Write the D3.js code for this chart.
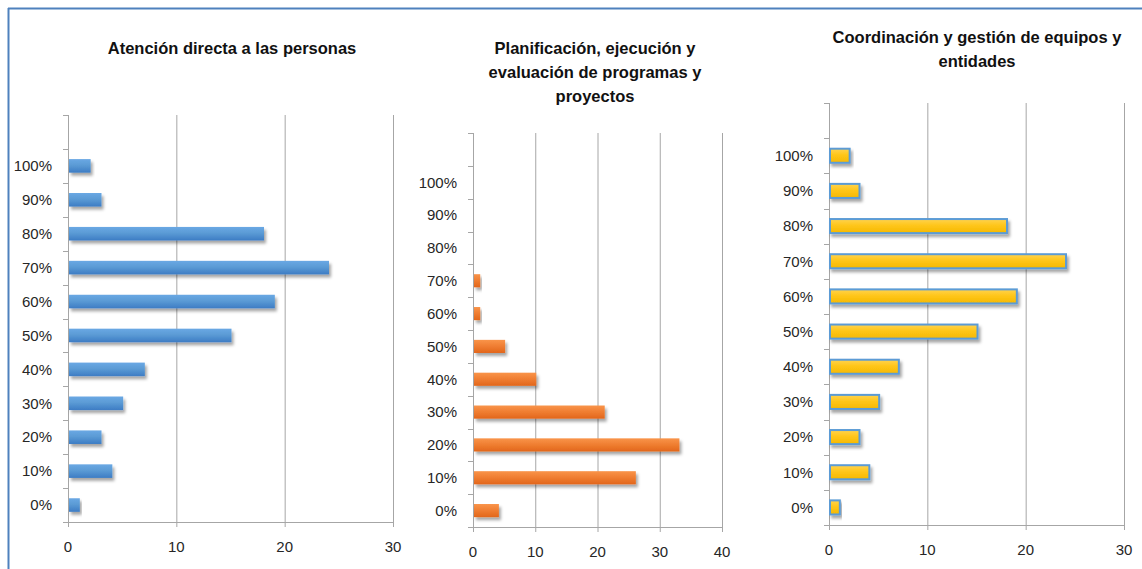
<!DOCTYPE html>
<html>
<head>
<meta charset="utf-8">
<script src="https://cdn.jsdelivr.net/npm/d3@7"></script>
<style>
  html, body { margin: 0; padding: 0; background: #fff; }
  svg { display: block; font-family: "Liberation Sans", Arial, sans-serif; }
</style>
</head>
<body>
<svg id="chart" width="1142" height="569"></svg>
<script>
// categories, bottom to top
const categories = ["0%", "10%", "20%", "30%", "40%", "50%", "60%", "70%", "80%", "90%", "100%"];

const atencionValues = [1, 4, 3, 5, 7, 15, 19, 24, 18, 3, 2];
const planificacionValues = [4, 26, 33, 21, 10, 5, 1, 1, 0, 0, 0];
const coordinacionValues = [1, 4, 3, 5, 7, 15, 19, 24, 18, 3, 2];

const ticks30 = [0, 10, 20, 30];
const ticks40 = [0, 10, 20, 30, 40];

const titleAtencion = ["Atención directa a las personas"];
const titlePlanificacion = ["Planificación, ejecución y", "evaluación de programas y", "proyectos"];
const titleCoordinacion = ["Coordinación y gestión de equipos y", "entidades"];

// layout for each panel
const panels = [
  { title: titleAtencion, values: atencionValues, ticks: ticks30, max: 30,
    left: 68, right: 393, top: 115, bottom: 522, titleX: 232, titleY: 48,
    fill: "gradBlue", stroke: null },
  { title: titlePlanificacion, values: planificacionValues, ticks: ticks40, max: 40,
    left: 473, right: 722, top: 133, bottom: 527, titleX: 595, titleY: 48,
    fill: "gradOrange", stroke: null },
  { title: titleCoordinacion, values: coordinacionValues, ticks: ticks30, max: 30,
    left: 829, right: 1124, top: 103, bottom: 525, titleX: 977, titleY: 37,
    fill: "gradYellow", stroke: "#5b9bd5" },
];

const gridColor = "#a6a6a6";
const svg = d3.select("#chart");

// defs: gradients + shadow
const defs = svg.append("defs");
function addGradient(id, stops) {
  const g = defs.append("linearGradient")
    .attr("id", id)
    .attr("x1", 0).attr("y1", 0).attr("x2", 0).attr("y2", 1);
  stops.forEach((s) => g.append("stop").attr("offset", s[0]).attr("stop-color", s[1]));
}
addGradient("gradBlue", [[0, "#6aa8e4"], [0.45, "#5b9bd5"], [1, "#3d7cc4"]]);
addGradient("gradOrange", [[0, "#f9944a"], [0.45, "#f07f33"], [1, "#e2661b"]]);
addGradient("gradYellow", [[0, "#ffd34f"], [0.45, "#ffc61a"], [1, "#f5b800"]]);

const shadow = defs.append("filter")
  .attr("id", "shadow")
  .attr("x", "-10%").attr("y", "-30%")
  .attr("width", "130%").attr("height", "180%");
shadow.append("feDropShadow")
  .attr("dx", 2).attr("dy", 3)
  .attr("stdDeviation", 1.8)
  .attr("flood-color", "#000")
  .attr("flood-opacity", 0.35);

// outer frame (only top and left edges are visible)
svg.append("line")
  .attr("x1", 8).attr("y1", 8.5).attr("x2", 1142).attr("y2", 8.5)
  .attr("stroke", "#4f81bd").attr("stroke-width", 2);
svg.append("line")
  .attr("x1", 8.5).attr("y1", 8).attr("x2", 8.5).attr("y2", 569)
  .attr("stroke", "#4f81bd").attr("stroke-width", 2);

panels.forEach((p) => {
  const g = svg.append("g");

  const x = d3.scaleLinear().domain([0, p.max]).range([p.left, p.right]);
  // an empty slot sits above the 100% row
  const slots = [""].concat(categories.slice().reverse());
  const y = d3.scaleBand().domain(slots).range([p.top, p.bottom]).padding(0);
  const step = y.bandwidth();

  // title
  const title = g.append("text")
    .attr("x", p.titleX)
    .attr("y", p.titleY)
    .attr("text-anchor", "middle")
    .attr("font-weight", "bold")
    .attr("font-size", 16.5)
    .attr("fill", "#111");
  p.title.forEach((line, i) => {
    title.append("tspan")
      .attr("x", p.titleX)
      .attr("dy", i === 0 ? "0.35em" : 24)
      .text(line);
  });

  // vertical gridlines
  g.selectAll("line.grid")
    .data(p.ticks.filter((t) => t > 0))
    .enter()
    .append("line")
    .attr("class", "grid")
    .attr("x1", (d) => x(d) + 0.5)
    .attr("x2", (d) => x(d) + 0.5)
    .attr("y1", p.top)
    .attr("y2", p.bottom)
    .attr("stroke", gridColor)
    .attr("stroke-width", 1);

  // y axis line and ticks at slot boundaries
  g.append("line")
    .attr("x1", x(0) + 0.5).attr("x2", x(0) + 0.5)
    .attr("y1", p.top).attr("y2", p.bottom)
    .attr("stroke", gridColor);
  g.selectAll("line.ytick")
    .data(slots)
    .enter()
    .append("line")
    .attr("class", "ytick")
    .attr("x1", x(0) - 5).attr("x2", x(0))
    .attr("y1", (d) => Math.round(y(d)) + 0.5)
    .attr("y2", (d) => Math.round(y(d)) + 0.5)
    .attr("stroke", gridColor);

  // x axis line and ticks
  g.append("line")
    .attr("x1", x(0) - 5).attr("x2", x(p.max))
    .attr("y1", p.bottom + 0.5).attr("y2", p.bottom + 0.5)
    .attr("stroke", gridColor);
  g.selectAll("line.xtick")
    .data(p.ticks)
    .enter()
    .append("line")
    .attr("class", "xtick")
    .attr("x1", (d) => x(d) + 0.5).attr("x2", (d) => x(d) + 0.5)
    .attr("y1", p.bottom).attr("y2", p.bottom + 5)
    .attr("stroke", gridColor);

  // x tick labels
  g.selectAll("text.xlabel")
    .data(p.ticks)
    .enter()
    .append("text")
    .attr("class", "xlabel")
    .attr("x", (d) => x(d))
    .attr("y", p.bottom + 25)
    .attr("dy", "0.35em")
    .attr("text-anchor", "middle")
    .attr("font-size", 15)
    .attr("fill", "#262626")
    .text((d) => d);

  // y category labels
  g.selectAll("text.ylabel")
    .data(categories)
    .enter()
    .append("text")
    .attr("class", "ylabel")
    .attr("x", x(0) - 16)
    .attr("y", (d) => y(d) + step / 2)
    .attr("dy", "0.35em")
    .attr("text-anchor", "end")
    .attr("font-size", 15)
    .attr("fill", "#262626")
    .text((d) => d);

  // bars
  const barH = step * 0.4;
  g.selectAll("rect.bar")
    .data(p.values.map((v, i) => ({ cat: categories[i], value: v })).filter((d) => d.value > 0))
    .enter()
    .append("rect")
    .attr("class", "bar")
    .attr("x", x(0) + 1)
    .attr("y", (d) => y(d.cat) + (step - barH) / 2)
    .attr("width", (d) => x(d.value) - x(0))
    .attr("height", barH)
    .attr("fill", `url(#${p.fill})`)
    .attr("stroke", p.stroke ? p.stroke : "none")
    .attr("stroke-width", p.stroke ? 2 : 0)
    .attr("filter", "url(#shadow)");
});
</script>
</body>
</html>
